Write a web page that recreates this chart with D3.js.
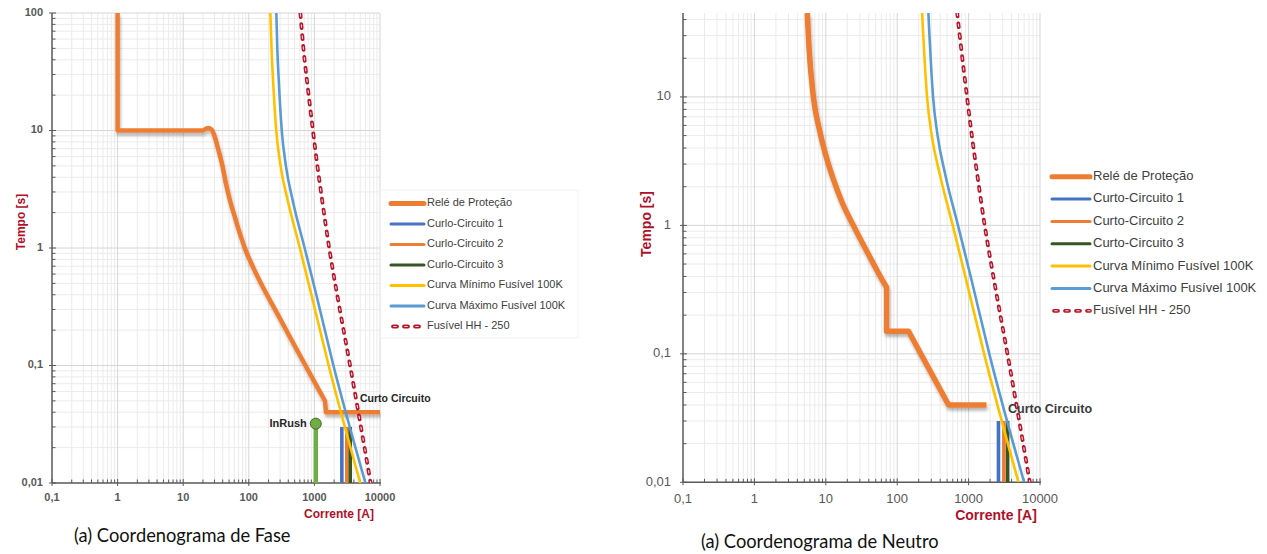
<!DOCTYPE html>
<html>
<head>
<meta charset="utf-8">
<script src="https://cdn.jsdelivr.net/npm/d3@7"></script>
<style>
  html, body { margin: 0; padding: 0; background: #fff; }
  svg { display: block; }
</style>
</head>
<body>
<svg id="chart" width="1267" height="554"></svg>
<script>
// ---- Eixos (valores de corrente e tempo) ----
const currentTicks = [0.1, 1, 10, 100, 1000, 10000];
const currentTickLabels = ["0,1", "1", "10", "100", "1000", "10000"];
const timeTicksFase = [0.01, 0.1, 1, 10, 100];
const timeTickLabelsFase = ["0,01", "0,1", "1", "10", "100"];
const timeTicksNeutro = [0.01, 0.1, 1, 10];
const timeTickLabelsNeutro = ["0,01", "0,1", "1", "10"];

// ---- Curvas [corrente A, tempo s] ----
const releFase = [[1, 100], [1, 10], [20, 10], [24, 10.5], [27, 10.2], [30, 9], [34, 7], [39, 5.2],
  [45, 3.5], [52, 2.5], [62, 1.8], [74, 1.3], [90, 0.95], [117, 0.68], [300, 0.25], [1450, 0.05], [1500, 0.04], [10000, 0.04]];
const releNeutro = [[5.5, 45], [5.8, 25], [6.7, 10], [8.3, 5.3], [10.5, 3.2], [12.7, 2.3], [17, 1.5],
  [24.3, 1], [45, 0.52], [61, 0.38], [71, 0.33], [71, 0.15], [144, 0.15], [525, 0.04], [1780, 0.04]];
const fusivelMinimo100K = [[213, 100], [222, 50], [236, 25], [262, 10], [305, 5], [395, 2.5], [600, 1],
  [900, 0.4], [1650, 0.1], [5000, 0.01]];
const fusivelMaximo100K = [[263, 100], [272, 50], [288, 25], [318, 10], [368, 5], [470, 2.5], [710, 1],
  [1070, 0.4], [1950, 0.1], [6000, 0.01]];
const fusivelHH250 = [[611, 100], [680, 50], [780, 25], [950, 10], [1110, 5], [1320, 2.5], [1680, 1],
  [2280, 0.37], [3500, 0.1], [7200, 0.01]];

// ---- Curtos-circuitos e corrente de magnetização ----
const curtoCircuitoCorrentes = [2620, 3120, 3520];
const curtoCircuitoTempo = 0.03;
const inrushCorrente = 1050;
const inrushTempo = 0.032;

const legendLabelsFase = ["Relé de Proteção", "Curlo-Circuito 1", "Curlo-Circuito 2", "Curlo-Circuito 3",
  "Curva Mínimo Fusível 100K", "Curva Máximo Fusível 100K", "Fusível HH - 250"];
const legendLabelsNeutro = ["Relé de Proteção", "Curto-Circuito 1", "Curto-Circuito 2", "Curto-Circuito 3",
  "Curva Mínimo Fusível 100K", "Curva Máximo Fusível 100K", "Fusível HH - 250"];

const COLORS = {
  rele: "#ED7D31", cc1: "#4472C4", cc2: "#ED7D31", cc3: "#375623",
  min: "#FFC000", max: "#5B9BD5", hh: "#B8162A"
};
const AXIS_RED = "#B0102A";

const svg = d3.select("#chart");
const defs = svg.append("defs");
const shadow = defs.append("filter").attr("id", "sombra")
  .attr("x", "-10%").attr("y", "-10%").attr("width", "130%").attr("height", "140%");
shadow.append("feDropShadow").attr("dx", 1).attr("dy", 3).attr("stdDeviation", 1.4)
  .attr("flood-color", "#000").attr("flood-opacity", 0.28);

// linha tracejada do fusível HH: traços ovais vermelhos com miolo claro
function dashedFuse(g, d) {
  g.append("path").attr("d", d).attr("fill", "none").attr("stroke", COLORS.hh)
    .attr("stroke-width", 3.8).attr("stroke-linecap", "round").attr("stroke-dasharray", "4 7");
  g.append("path").attr("d", d).attr("fill", "none").attr("stroke", "#f5d6d8")
    .attr("stroke-width", 1.1).attr("stroke-linecap", "round")
    .attr("stroke-dasharray", "2.5 8.5").attr("stroke-dashoffset", -0.75);
}

function drawChart(cfg) {
  const x = d3.scaleLog().domain([0.1, 10000]).range([cfg.left, cfg.right]);
  const y = d3.scaleLog().domain([0.01, cfg.tMax]).range([cfg.bottom, cfg.top]);
  const g = svg.append("g");
  const clipId = "clip-" + cfg.id;
  defs.append("clipPath").attr("id", clipId).append("rect")
    .attr("x", cfg.left).attr("y", cfg.top)
    .attr("width", cfg.right - cfg.left + 1).attr("height", cfg.bottom - cfg.top);

  // grade menor e maior
  const minorX = [], minorY = [];
  for (let e = -1; e < 4; e++) for (let m = 2; m <= 9; m++) minorX.push(m * Math.pow(10, e));
  for (let e = -2; e < 2; e++) for (let m = 2; m <= 9; m++) {
    const v = m * Math.pow(10, e); if (v <= cfg.tMax) minorY.push(v);
  }
  const grid = g.append("g");
  grid.selectAll(".mx").data(minorX).join("line")
    .attr("x1", d => x(d)).attr("x2", d => x(d)).attr("y1", cfg.top).attr("y2", cfg.bottom)
    .attr("stroke", "#ebebeb").attr("stroke-width", 1);
  grid.selectAll(".my").data(minorY).join("line")
    .attr("y1", d => y(d)).attr("y2", d => y(d)).attr("x1", cfg.left).attr("x2", cfg.right)
    .attr("stroke", "#ebebeb").attr("stroke-width", 1);
  grid.selectAll(".Mx").data(currentTicks.slice(1)).join("line")
    .attr("x1", d => x(d)).attr("x2", d => x(d)).attr("y1", cfg.top).attr("y2", cfg.bottom)
    .attr("stroke", "#d6d6d6").attr("stroke-width", 1);
  grid.selectAll(".My").data(cfg.timeTicks.slice(1)).join("line")
    .attr("y1", d => y(d)).attr("y2", d => y(d)).attr("x1", cfg.left).attr("x2", cfg.right)
    .attr("stroke", "#d6d6d6").attr("stroke-width", 1);

  // eixos
  const axisColor = "#595959";
  const ax = g.append("g");
  ax.append("line").attr("x1", cfg.left).attr("x2", cfg.right + 1).attr("y1", cfg.bottom).attr("y2", cfg.bottom)
    .attr("stroke", axisColor).attr("stroke-width", 1.5);
  ax.append("line").attr("x1", cfg.left).attr("x2", cfg.left).attr("y1", cfg.top).attr("y2", cfg.bottom)
    .attr("stroke", axisColor).attr("stroke-width", 1.5);
  ax.selectAll(".tx").data(minorX).join("line")
    .attr("x1", d => x(d)).attr("x2", d => x(d)).attr("y1", cfg.bottom).attr("y2", cfg.bottom - 3.5)
    .attr("stroke", axisColor).attr("stroke-width", 1);
  ax.selectAll(".ty").data(minorY).join("line")
    .attr("y1", d => y(d)).attr("y2", d => y(d)).attr("x1", cfg.left).attr("x2", cfg.left + 3.5)
    .attr("stroke", axisColor).attr("stroke-width", 1);
  ax.selectAll(".Tx").data(currentTicks).join("line")
    .attr("x1", d => x(d)).attr("x2", d => x(d)).attr("y1", cfg.bottom - 4).attr("y2", cfg.bottom + 3)
    .attr("stroke", axisColor).attr("stroke-width", 1);
  ax.selectAll(".Ty").data(cfg.timeTicks).join("line")
    .attr("y1", d => y(d)).attr("y2", d => y(d)).attr("x1", cfg.left - 3).attr("x2", cfg.left + 4)
    .attr("stroke", axisColor).attr("stroke-width", 1);

  const tickFont = `${cfg.tickWeight} ${cfg.tickSize}px 'Liberation Sans', Arial, sans-serif`;
  ax.selectAll(".lx").data(currentTicks).join("text")
    .attr("x", d => x(d)).attr("y", cfg.bottom + cfg.xLabelDy)
    .attr("text-anchor", "middle").attr("dominant-baseline", "middle")
    .style("font", tickFont).attr("fill", axisColor)
    .text((d, i) => currentTickLabels[i]);
  ax.selectAll(".ly").data(cfg.timeTicks).join("text")
    .attr("x", cfg.yLabelX).attr("y", d => y(d))
    .attr("text-anchor", "end").attr("dominant-baseline", "middle")
    .style("font", tickFont).attr("fill", axisColor)
    .text((d, i) => cfg.timeTickLabels[i]);

  // títulos dos eixos
  g.append("text").attr("transform", `translate(${cfg.yTitle[0]},${cfg.yTitle[1]}) rotate(-90)`)
    .attr("text-anchor", "middle").attr("dominant-baseline", "middle")
    .style("font", `bold ${cfg.titleSize}px 'Liberation Sans', Arial, sans-serif`).attr("fill", AXIS_RED)
    .text("Tempo [s]");
  g.append("text").attr("x", cfg.xTitle[0]).attr("y", cfg.xTitle[1])
    .attr("text-anchor", "middle").attr("dominant-baseline", "middle")
    .style("font", `bold ${cfg.titleSize}px 'Liberation Sans', Arial, sans-serif`).attr("fill", AXIS_RED)
    .text("Corrente [A]");

  // séries
  const plot = g.append("g").attr("clip-path", `url(#${clipId})`);
  const line = d3.line().x(d => x(d[0])).y(d => y(d[1]));
  const smooth = d3.line().x(d => x(d[0])).y(d => y(d[1])).curve(d3.curveMonotoneX);

  plot.append("path").attr("d", cfg.releCurve(line, smooth)).attr("fill", "none")
    .attr("stroke", COLORS.rele).attr("stroke-width", cfg.releWidth)
    .attr("stroke-linejoin", "round").attr("filter", "url(#sombra)");

  if (cfg.inrush) {
    plot.append("line").attr("x1", x(inrushCorrente)).attr("x2", x(inrushCorrente))
      .attr("y1", y(0.01)).attr("y2", y(inrushTempo))
      .attr("stroke", "#70AD47").attr("stroke-width", 4.5);
  }

  const ccColors = [COLORS.cc1, COLORS.cc2, COLORS.cc3];
  plot.selectAll(".cc").data(curtoCircuitoCorrentes).join("line")
    .attr("x1", d => x(d)).attr("x2", d => x(d))
    .attr("y1", y(0.01)).attr("y2", y(curtoCircuitoTempo))
    .attr("stroke", (d, i) => ccColors[i]).attr("stroke-width", cfg.ccWidth);

  plot.append("path").attr("d", smooth(fusivelMinimo100K)).attr("fill", "none")
    .attr("stroke", COLORS.min).attr("stroke-width", 2.6);
  plot.append("path").attr("d", smooth(fusivelMaximo100K)).attr("fill", "none")
    .attr("stroke", COLORS.max).attr("stroke-width", 2.6);
  dashedFuse(plot, smooth(fusivelHH250));

  if (cfg.inrush) {
    g.append("circle").attr("cx", x(inrushCorrente)).attr("cy", y(inrushTempo)).attr("r", 5.5)
      .attr("fill", "#70AD47").attr("stroke", "#3d6b22").attr("stroke-width", 1);
    g.append("text").attr("x", x(inrushCorrente) - 9).attr("y", y(inrushTempo))
      .attr("text-anchor", "end").attr("dominant-baseline", "middle")
      .style("font", "bold 11px 'Liberation Sans', Arial, sans-serif").attr("fill", "#262626")
      .text("InRush");
  }
  g.append("text").attr("x", cfg.ccLabel[0]).attr("y", cfg.ccLabel[1])
    .attr("dominant-baseline", "middle")
    .style("font", cfg.ccLabelFont).attr("fill", cfg.ccLabelColor)
    .text("Curto Circuito");

  // legenda
  const lg = g.append("g");
  if (cfg.legendBox) {
    lg.append("rect").attr("x", cfg.legendBox[0]).attr("y", cfg.legendBox[1])
      .attr("width", cfg.legendBox[2]).attr("height", cfg.legendBox[3])
      .attr("fill", "none").attr("stroke", "#f1f1f1");
  }
  const legendColors = [COLORS.rele, COLORS.cc1, COLORS.cc2, COLORS.cc3, COLORS.min, COLORS.max, COLORS.hh];
  cfg.legendLabels.forEach((lab, i) => {
    const yy = cfg.legendY + i * cfg.legendStep;
    if (i === 6) {
      dashedFuse(lg, `M${cfg.legendX0 + 2},${yy}H${cfg.legendX1}`);
    } else {
      lg.append("line").attr("x1", cfg.legendX0).attr("x2", cfg.legendX1).attr("y1", yy).attr("y2", yy)
        .attr("stroke", legendColors[i]).attr("stroke-width", i === 0 ? 5 : 3)
        .attr("stroke-linecap", "round");
    }
    lg.append("text").attr("x", cfg.legendX1 + 3).attr("y", yy).attr("dominant-baseline", "middle")
      .style("font", `${cfg.legendSize}px 'Liberation Sans', Arial, sans-serif`).attr("fill", "#404040")
      .text(lab);
  });

  // legenda da figura
  svg.append("text").attr("x", cfg.caption[0]).attr("y", cfg.caption[1])
    .style("font", "18.3px Lato, 'Open Sans', sans-serif").attr("fill", "#111")
    .text(cfg.captionText);
}

drawChart({
  id: "fase", left: 52, right: 380, top: 13, bottom: 483, tMax: 100,
  timeTicks: timeTicksFase, timeTickLabels: timeTickLabelsFase,
  tickWeight: "bold", tickSize: 11, xLabelDy: 15, yLabelX: 43,
  titleSize: 12, yTitle: [22, 222], xTitle: [339, 515],
  releCurve: (line, smooth) => line(releFase.slice(0, 3)) + smooth(releFase.slice(2, 16)).replace(/^M/, "L") + line(releFase.slice(15)).replace(/^M/, "L"),
  releWidth: 4.5, ccWidth: 3.6, inrush: true,
  ccLabel: [360, 399], ccLabelFont: "bold 10.5px 'Liberation Sans', Arial, sans-serif", ccLabelColor: "#262626",
  legendBox: [380, 190, 198, 148],
  legendLabels: legendLabelsFase, legendX0: 391, legendX1: 424, legendY: 203.5, legendStep: 20.5, legendSize: 11,
  caption: [74, 542], captionText: "(a) Coordenograma de Fase"
});

drawChart({
  id: "neutro", left: 683, right: 1040, top: 13, bottom: 482.3, tMax: 45,
  timeTicks: timeTicksNeutro, timeTickLabels: timeTickLabelsNeutro,
  tickWeight: "normal", tickSize: 13, xLabelDy: 17, yLabelX: 671,
  titleSize: 14, yTitle: [647, 224], xTitle: [996, 516],
  releCurve: (line, smooth) => smooth(releNeutro.slice(0, 11)) + line(releNeutro.slice(10)).replace(/^M/, "L"),
  releWidth: 5.5, ccWidth: 3.6, inrush: false,
  ccLabel: [1008, 410], ccLabelFont: "bold 12.5px 'Liberation Sans', Arial, sans-serif", ccLabelColor: "#3a3a3a",
  legendBox: null,
  legendLabels: legendLabelsNeutro, legendX0: 1052, legendX1: 1090, legendY: 176.7, legendStep: 22.35, legendSize: 13,
  caption: [701, 548], captionText: "(a) Coordenograma de Neutro"
});
</script>
</body>
</html>
